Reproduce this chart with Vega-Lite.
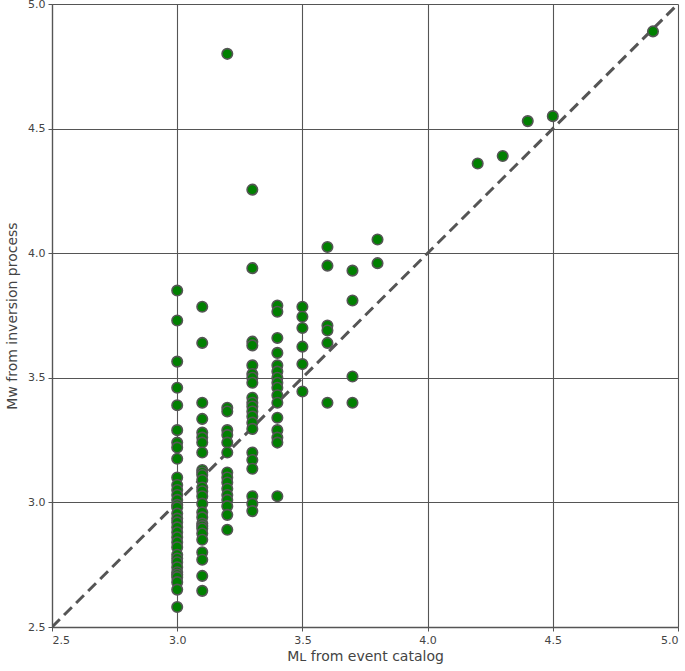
{
  "$schema": "https://vega.github.io/schema/vega-lite/v6.json",
  "width": 626,
  "height": 623,
  "autosize": {"type": "none"},
  "padding": {"left": 52, "top": 4, "right": 7, "bottom": 44},
  "background": "white",
  "config": {
    "view": {"stroke": null},
    "font": "DejaVu Sans",
    "axis": {
      "labelFont": "DejaVu Sans",
      "titleFont": "DejaVu Sans",
      "labelFontSize": 11,
      "titleFontSize": 14,
      "titleFontWeight": "normal",
      "labelColor": "#444444",
      "titleColor": "#444444",
      "domainColor": "#555555",
      "domainWidth": 1.3,
      "tickColor": "#555555",
      "tickSize": 4,
      "gridColor": "#555555",
      "gridOpacity": 1,
      "gridWidth": 1.1
    }
  },
  "datasets": {
    "pts": [
      {"ml": 3.0, "mw": 3.85}, {"ml": 3.0, "mw": 3.73}, {"ml": 3.0, "mw": 3.565}, {"ml": 3.0, "mw": 3.46}, {"ml": 3.0, "mw": 3.39},
      {"ml": 3.0, "mw": 3.29}, {"ml": 3.0, "mw": 3.24}, {"ml": 3.0, "mw": 3.22}, {"ml": 3.0, "mw": 3.175}, {"ml": 3.0, "mw": 3.10},
      {"ml": 3.0, "mw": 3.07}, {"ml": 3.0, "mw": 3.05}, {"ml": 3.0, "mw": 3.03}, {"ml": 3.0, "mw": 3.01}, {"ml": 3.0, "mw": 2.99},
      {"ml": 3.0, "mw": 2.98}, {"ml": 3.0, "mw": 2.955}, {"ml": 3.0, "mw": 2.935}, {"ml": 3.0, "mw": 2.92}, {"ml": 3.0, "mw": 2.90},
      {"ml": 3.0, "mw": 2.88}, {"ml": 3.0, "mw": 2.86}, {"ml": 3.0, "mw": 2.84}, {"ml": 3.0, "mw": 2.82}, {"ml": 3.0, "mw": 2.79},
      {"ml": 3.0, "mw": 2.775}, {"ml": 3.0, "mw": 2.76}, {"ml": 3.0, "mw": 2.74}, {"ml": 3.0, "mw": 2.72}, {"ml": 3.0, "mw": 2.71},
      {"ml": 3.0, "mw": 2.70}, {"ml": 3.0, "mw": 2.68}, {"ml": 3.0, "mw": 2.65}, {"ml": 3.0, "mw": 2.58},
      {"ml": 3.1, "mw": 3.785}, {"ml": 3.1, "mw": 3.64}, {"ml": 3.1, "mw": 3.40}, {"ml": 3.1, "mw": 3.335}, {"ml": 3.1, "mw": 3.28},
      {"ml": 3.1, "mw": 3.26}, {"ml": 3.1, "mw": 3.24}, {"ml": 3.1, "mw": 3.20}, {"ml": 3.1, "mw": 3.13}, {"ml": 3.1, "mw": 3.12},
      {"ml": 3.1, "mw": 3.11}, {"ml": 3.1, "mw": 3.09}, {"ml": 3.1, "mw": 3.06}, {"ml": 3.1, "mw": 3.045}, {"ml": 3.1, "mw": 3.025},
      {"ml": 3.1, "mw": 2.995}, {"ml": 3.1, "mw": 2.96}, {"ml": 3.1, "mw": 2.94}, {"ml": 3.1, "mw": 2.915}, {"ml": 3.1, "mw": 2.905},
      {"ml": 3.1, "mw": 2.895}, {"ml": 3.1, "mw": 2.875}, {"ml": 3.1, "mw": 2.85}, {"ml": 3.1, "mw": 2.80}, {"ml": 3.1, "mw": 2.77},
      {"ml": 3.1, "mw": 2.705}, {"ml": 3.1, "mw": 2.645},
      {"ml": 3.2, "mw": 4.80}, {"ml": 3.2, "mw": 3.38}, {"ml": 3.2, "mw": 3.365}, {"ml": 3.2, "mw": 3.29}, {"ml": 3.2, "mw": 3.27},
      {"ml": 3.2, "mw": 3.24}, {"ml": 3.2, "mw": 3.20}, {"ml": 3.2, "mw": 3.12}, {"ml": 3.2, "mw": 3.10}, {"ml": 3.2, "mw": 3.08},
      {"ml": 3.2, "mw": 3.055}, {"ml": 3.2, "mw": 3.03}, {"ml": 3.2, "mw": 3.01}, {"ml": 3.2, "mw": 2.985}, {"ml": 3.2, "mw": 2.95},
      {"ml": 3.2, "mw": 2.89},
      {"ml": 3.3, "mw": 4.255}, {"ml": 3.3, "mw": 3.94}, {"ml": 3.3, "mw": 3.645}, {"ml": 3.3, "mw": 3.63}, {"ml": 3.3, "mw": 3.55},
      {"ml": 3.3, "mw": 3.515}, {"ml": 3.3, "mw": 3.50}, {"ml": 3.3, "mw": 3.48}, {"ml": 3.3, "mw": 3.42}, {"ml": 3.3, "mw": 3.40},
      {"ml": 3.3, "mw": 3.385}, {"ml": 3.3, "mw": 3.365}, {"ml": 3.3, "mw": 3.345}, {"ml": 3.3, "mw": 3.32}, {"ml": 3.3, "mw": 3.295},
      {"ml": 3.3, "mw": 3.20}, {"ml": 3.3, "mw": 3.17}, {"ml": 3.3, "mw": 3.135}, {"ml": 3.3, "mw": 3.025}, {"ml": 3.3, "mw": 2.995},
      {"ml": 3.3, "mw": 2.965},
      {"ml": 3.4, "mw": 3.79}, {"ml": 3.4, "mw": 3.765}, {"ml": 3.4, "mw": 3.66}, {"ml": 3.4, "mw": 3.60}, {"ml": 3.4, "mw": 3.55},
      {"ml": 3.4, "mw": 3.525}, {"ml": 3.4, "mw": 3.50}, {"ml": 3.4, "mw": 3.48}, {"ml": 3.4, "mw": 3.46}, {"ml": 3.4, "mw": 3.43},
      {"ml": 3.4, "mw": 3.40}, {"ml": 3.4, "mw": 3.34}, {"ml": 3.4, "mw": 3.29}, {"ml": 3.4, "mw": 3.26}, {"ml": 3.4, "mw": 3.24},
      {"ml": 3.4, "mw": 3.025},
      {"ml": 3.5, "mw": 3.785}, {"ml": 3.5, "mw": 3.745}, {"ml": 3.5, "mw": 3.70}, {"ml": 3.5, "mw": 3.625}, {"ml": 3.5, "mw": 3.555},
      {"ml": 3.5, "mw": 3.445},
      {"ml": 3.6, "mw": 4.025}, {"ml": 3.6, "mw": 3.95}, {"ml": 3.6, "mw": 3.71}, {"ml": 3.6, "mw": 3.69}, {"ml": 3.6, "mw": 3.64},
      {"ml": 3.6, "mw": 3.40},
      {"ml": 3.7, "mw": 3.93}, {"ml": 3.7, "mw": 3.81}, {"ml": 3.7, "mw": 3.505}, {"ml": 3.7, "mw": 3.40},
      {"ml": 3.8, "mw": 4.055}, {"ml": 3.8, "mw": 3.96},
      {"ml": 4.2, "mw": 4.36}, {"ml": 4.3, "mw": 4.39}, {"ml": 4.4, "mw": 4.53}, {"ml": 4.5, "mw": 4.55}, {"ml": 4.9, "mw": 4.89}
    ],
    "diag": [
      {"ml": 2.5, "mw": 2.5},
      {"ml": 5.0, "mw": 5.0}
    ]
  },
  "layer": [
    {
      "data": {"name": "diag"},
      "mark": {"type": "line", "color": "#555555", "strokeWidth": 3, "strokeDash": [11, 6], "clip": true},
      "encoding": {
        "x": {"field": "ml", "type": "quantitative"},
        "y": {"field": "mw", "type": "quantitative"}
      }
    },
    {
      "data": {"name": "pts"},
      "mark": {"type": "point", "filled": true, "fill": "#008000", "fillOpacity": 1, "stroke": "#555555", "strokeWidth": 1.6, "strokeOpacity": 1, "size": 110, "clip": true},
      "encoding": {
        "x": {
          "field": "ml", "type": "quantitative",
          "scale": {"domain": [2.5, 5.0], "nice": false, "zero": false},
          "axis": {"values": [2.5, 3.0, 3.5, 4.0, 4.5, 5.0], "format": ".1f", "title": "Mʟ from event catalog", "titlePadding": 4, "labelPadding": 3}
        },
        "y": {
          "field": "mw", "type": "quantitative",
          "scale": {"domain": [2.5, 5.0], "nice": false, "zero": false},
          "axis": {"values": [2.5, 3.0, 3.5, 4.0, 4.5, 5.0], "format": ".1f", "title": "Mᴡ from inversion process", "titlePadding": 8, "labelPadding": 3}
        }
      }
    }
  ]
}
